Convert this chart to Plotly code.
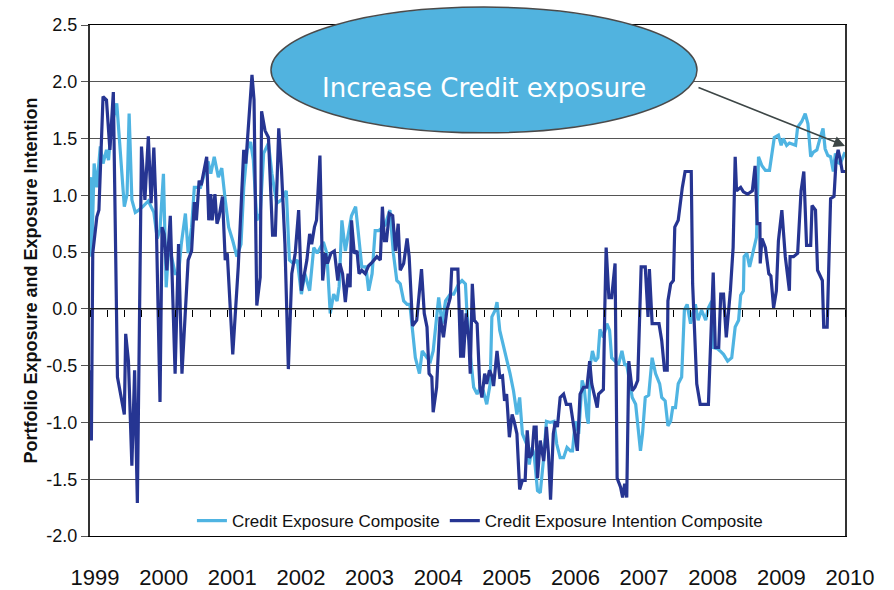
import plotly.graph_objects as go

# Credit Exposure Composite (decimal year, composite score)
exposure_years = [
    1999.00, 1999.01, 1999.025, 1999.06, 1999.10, 1999.15, 1999.19, 1999.24, 1999.27, 1999.31,
    1999.39, 1999.44, 1999.46, 1999.50, 1999.54, 1999.57, 1999.61, 1999.66, 1999.71, 1999.77,
    1999.85, 1999.93, 1999.98, 2000.02, 2000.07, 2000.11, 2000.15, 2000.20, 2000.24, 2000.29,
    2000.33, 2000.39, 2000.43, 2000.48, 2000.52, 2000.61, 2000.67, 2000.72, 2000.76, 2000.81,
    2000.87, 2000.92, 2000.97, 2001.02, 2001.08, 2001.14, 2001.20, 2001.24, 2001.29, 2001.34,
    2001.38, 2001.43, 2001.48, 2001.53, 2001.60, 2001.65, 2001.72, 2001.79, 2001.86, 2001.905,
    2001.96, 2002.02, 2002.08, 2002.13, 2002.20, 2002.26, 2002.31, 2002.40, 2002.45, 2002.50,
    2002.55, 2002.60, 2002.63, 2002.67, 2002.72, 2002.76, 2002.81, 2002.87, 2002.91, 2002.96,
    2003.02, 2003.06, 2003.11, 2003.155, 2003.21, 2003.30, 2003.37, 2003.42, 2003.47, 2003.52,
    2003.57, 2003.62, 2003.66, 2003.74, 2003.80, 2003.84, 2003.91, 2003.96, 2004.00, 2004.08,
    2004.13, 2004.18, 2004.25, 2004.30, 2004.37, 2004.42, 2004.47, 2004.49, 2004.54, 2004.59,
    2004.64, 2004.69, 2004.73, 2004.78, 2004.83, 2004.855, 2004.905, 2004.93, 2004.97, 2005.03,
    2005.07, 2005.12, 2005.17, 2005.22, 2005.26, 2005.30, 2005.36, 2005.40, 2005.44, 2005.47,
    2005.52, 2005.56, 2005.61, 2005.65, 2005.705, 2005.76, 2005.80, 2005.85, 2005.90, 2005.95,
    2006.00, 2006.03, 2006.07, 2006.12, 2006.17, 2006.20, 2006.24, 2006.26, 2006.29, 2006.32,
    2006.36, 2006.40, 2006.43, 2006.48, 2006.53, 2006.57, 2006.60, 2006.65, 2006.70, 2006.75,
    2006.79, 2006.82, 2006.87, 2006.90, 2006.95, 2007.02, 2007.05, 2007.09, 2007.14, 2007.19,
    2007.24, 2007.30, 2007.33, 2007.38, 2007.42, 2007.46, 2007.49, 2007.53, 2007.57, 2007.62,
    2007.66, 2007.70, 2007.75, 2007.78, 2007.82, 2007.86, 2007.91, 2007.97, 2008.01, 2008.06,
    2008.08, 2008.14, 2008.18, 2008.23, 2008.29, 2008.35, 2008.40, 2008.45, 2008.48, 2008.52,
    2008.53, 2008.57, 2008.61, 2008.68, 2008.71, 2008.74, 2008.79, 2008.84, 2008.90, 2008.97,
    2009.03, 2009.07, 2009.10, 2009.15, 2009.19, 2009.28, 2009.31, 2009.37, 2009.42, 2009.46,
    2009.50, 2009.54, 2009.59, 2009.64, 2009.68, 2009.71, 2009.75, 2009.79, 2009.83, 2009.86,
    2009.89, 2009.93, 2009.97, 2010.00,
]
exposure_values = [
    1.01, 1.16, 0.46, 1.28, 1.07, 1.43, 1.28, 1.40, 1.31, 1.60,
    1.81, 1.40, 1.31, 0.90, 1.01, 1.72, 0.96, 0.85, 0.87, 0.90,
    0.95, 0.85, 0.62, 0.70, 1.19, 0.19, 0.57, 0.43, 0.31, 0.31,
    0.57, 0.84, 0.49, 0.72, 1.07, 1.07, 1.19, 1.30, 1.19, 1.34,
    1.16, 1.24, 0.96, 0.72, 0.60, 0.46, 0.57, 1.07, 1.40, 1.47,
    1.31, 0.78, 0.84, 1.37, 1.46, 1.19, 0.93, 0.96, 1.04, 0.43,
    0.40, 0.43, 0.13, 0.31, 0.16, 0.54, 0.49, 0.59, 0.49, -0.04,
    0.13, 0.07, 0.20, 0.78, 0.51, 0.66, 0.82, 0.90, 0.66, 0.37,
    0.37, 0.16, 0.31, 0.69, 0.69, 0.74, 0.87, 0.49, 0.25, 0.22,
    0.07, 0.04, 0.04, -0.43, -0.57, -0.37, -0.43, -0.46, -0.37, 0.10,
    -0.13, 0.07, 0.13, 0.13, 0.22, 0.25, 0.22, -0.01, -0.40, -0.69,
    -0.75, -0.69, -0.72, -0.84, -0.66, -0.07, -0.01, 0.06, -0.19, -0.34,
    -0.43, -0.57, -0.72, -0.93, -0.78, -1.10, -1.19, -1.37, -1.22, -1.28,
    -1.60, -1.62, -1.31, -0.99, -1.00, -0.99, -1.19, -1.31, -1.31, -1.22,
    -1.25, -1.25, -0.99, -1.10, -0.63, -0.69, -0.95, -1.01, -0.49, -0.37,
    -0.46, -0.43, -0.18, -0.25, -0.13, -0.19, -0.43, -0.46, -0.49, -0.37,
    -0.49, -0.49, -0.66, -0.78, -0.84, -1.25, -1.10, -0.78, -0.76, -0.43,
    -0.57, -0.66, -0.78, -0.81, -1.03, -0.99, -0.87, -0.87, -0.66, -0.60,
    -0.01, 0.04, -0.13, -0.04, 0.04, -0.10, -0.01, -0.10, 0.01, 0.07,
    -0.34, -0.35, -0.37, -0.40, -0.46, -0.43, -0.16, -0.10, 0.12, 0.16,
    0.46, 0.49, 0.37, 0.54, 0.63, 1.34, 1.26, 1.22, 1.22, 1.51,
    1.53, 1.44, 1.50, 1.44, 1.46, 1.44, 1.60, 1.65, 1.72, 1.63,
    1.34, 1.38, 1.40, 1.51, 1.59, 1.41, 1.35, 1.34, 1.21, 1.37,
    1.29, 1.28, 1.34, 1.38,
]

# Credit Exposure Intention Composite (decimal year, composite score)
intention_years = [
    1999.00, 1999.01, 1999.02, 1999.04, 1999.10, 1999.13, 1999.19, 1999.24, 1999.29, 1999.34,
    1999.40, 1999.46, 1999.50, 1999.52, 1999.56, 1999.61, 1999.65, 1999.69, 1999.75, 1999.80,
    1999.85, 1999.89, 1999.93, 1999.96, 2000.02, 2000.05, 2000.08, 2000.12, 2000.17, 2000.24,
    2000.29, 2000.34, 2000.43, 2000.48, 2000.52, 2000.55, 2000.59, 2000.62, 2000.70, 2000.73,
    2000.76, 2000.78, 2000.82, 2000.85, 2000.88, 2000.93, 2000.97, 2001.00, 2001.08, 2001.16,
    2001.24, 2001.27, 2001.36, 2001.39, 2001.43, 2001.48, 2001.50, 2001.55, 2001.60, 2001.66,
    2001.70, 2001.75, 2001.79, 2001.84, 2001.89, 2001.94, 2001.99, 2002.04, 2002.08, 2002.16,
    2002.20, 2002.23, 2002.27, 2002.30, 2002.35, 2002.39, 2002.43, 2002.46, 2002.51, 2002.56,
    2002.61, 2002.64, 2002.68, 2002.72, 2002.76, 2002.79, 2002.81, 2002.85, 2002.89, 2002.92,
    2002.96, 2003.01, 2003.06, 2003.11, 2003.14, 2003.18, 2003.23, 2003.26, 2003.29, 2003.32,
    2003.36, 2003.41, 2003.45, 2003.49, 2003.52, 2003.57, 2003.62, 2003.65, 2003.70, 2003.76,
    2003.83, 2003.87, 2003.91, 2003.94, 2003.98, 2004.00, 2004.05, 2004.10, 2004.15, 2004.20,
    2004.25, 2004.27, 2004.36, 2004.40, 2004.42, 2004.44, 2004.48, 2004.52, 2004.54, 2004.57,
    2004.60, 2004.64, 2004.68, 2004.71, 2004.75, 2004.78, 2004.82, 2004.86, 2004.88, 2004.93,
    2004.97, 2005.01, 2005.04, 2005.07, 2005.11, 2005.15, 2005.18, 2005.22, 2005.26, 2005.30,
    2005.34, 2005.37, 2005.40, 2005.44, 2005.47, 2005.50, 2005.52, 2005.56, 2005.61, 2005.65,
    2005.68, 2005.71, 2005.75, 2005.78, 2005.81, 2005.85, 2005.90, 2005.94, 2006.00, 2006.05,
    2006.10, 2006.14, 2006.19, 2006.24, 2006.28, 2006.31, 2006.35, 2006.39, 2006.41, 2006.48,
    2006.50, 2006.52, 2006.56, 2006.60, 2006.65, 2006.68, 2006.73, 2006.76, 2006.79, 2006.82,
    2006.85, 2006.90, 2006.94, 2006.98, 2007.03, 2007.09, 2007.13, 2007.15, 2007.19, 2007.29,
    2007.33, 2007.37, 2007.41, 2007.42, 2007.46, 2007.50, 2007.52, 2007.57, 2007.63, 2007.67,
    2007.76, 2007.78, 2007.84, 2007.89, 2008.01, 2008.04, 2008.08, 2008.11, 2008.16, 2008.19,
    2008.23, 2008.27, 2008.33, 2008.37, 2008.40, 2008.42, 2008.48, 2008.52, 2008.58, 2008.65,
    2008.69, 2008.72, 2008.76, 2008.765, 2008.79, 2008.84, 2008.89, 2008.92, 2008.96, 2009.00,
    2009.03, 2009.08, 2009.13, 2009.19, 2009.20, 2009.25, 2009.31, 2009.36, 2009.40, 2009.44,
    2009.50, 2009.52, 2009.57, 2009.60, 2009.67, 2009.69, 2009.74, 2009.79, 2009.84, 2009.87,
    2009.90, 2009.935, 2009.96, 2010.00,
]
intention_values = [
    -0.84, -0.54, -1.16, 0.49, 0.81, 0.87, 1.87, 1.84, 1.40, 1.91,
    -0.60, -0.78, -0.93, -0.22, -0.46, -1.38, -0.54, -1.71, 1.43, 0.96,
    1.52, 0.93, 1.42, 0.93, -0.82, 0.72, 0.66, 0.34, 0.82, -0.57,
    0.57, -0.57, 0.43, 0.51, 0.94, 0.78, 1.13, 1.09, 1.34, 0.78,
    1.01, 0.78, 1.01, 0.75, 0.81, 0.99, 0.43, 0.49, -0.40, 0.37,
    1.40, 1.28, 2.06, 1.84, 0.03, 0.28, 1.74, 1.57, 1.51, 0.65,
    0.65, 1.59, 1.22, 0.57, -0.53, 0.31, 0.49, 0.87, 0.16, 0.43,
    0.66, 0.57, 0.72, 0.78, 1.35, 0.25, 0.49, 0.40, 0.49, 0.51,
    0.25, 0.40, 0.31, 0.06, 0.31, 0.19, 0.78, 0.49, 0.51, 0.31,
    0.34, 0.31, 0.38, 0.41, 0.43, 0.46, 0.43, 0.90, 0.60, 0.60,
    0.84, 0.82, 0.51, 0.75, 0.34, 0.40, 0.62, 0.46, -0.15, -0.10,
    0.35, -0.04, -0.16, -0.57, -0.60, -0.91, -0.69, -0.07, -0.25, -0.01,
    0.10, 0.35, 0.35, -0.43, -0.01, -0.43, -0.04, -0.28, -0.57, 0.22,
    -0.10, -0.13, -0.69, -0.78, -0.57, -0.66, -0.54, -0.60, -0.68, -0.37,
    -0.60, -0.59, -0.81, -0.75, -1.13, -0.93, -0.99, -1.10, -1.59, -1.51,
    -1.51, -1.07, -1.31, -1.28, -1.04, -1.04, -1.49, -1.16, -1.34, -1.04,
    -1.28, -1.68, -1.10, -0.99, -1.04, -0.78, -0.75, -0.84, -0.84, -1.07,
    -1.25, -0.75, -0.69, -0.69, -0.46, -0.66, -0.78, -0.87, -0.75, -0.71,
    -0.01, 0.54, 0.10, 0.10, 0.40, -1.49, -1.57, -1.66, -1.54, -1.66,
    -0.46, -0.72, -0.69, -0.63, 0.37, 0.37, -0.07, 0.35, -0.13, -0.13,
    -0.28, -0.54, -0.54, 0.07, 0.22, 0.25, 0.72, 0.78, 1.07, 1.21,
    1.21, 0.22, -0.66, -0.84, -0.84, -0.25, 0.32, -0.34, -0.34, 0.13,
    0.13, -0.25, 0.16, 0.54, 1.34, 1.04, 1.07, 1.03, 1.01, 1.04,
    1.26, 0.75, 0.75, 0.40, 0.62, 0.54, 0.31, 0.29, 0.01, 0.16,
    0.60, 0.87, 0.46, 0.16, 0.46, 0.46, 0.49, 1.04, 1.21, 0.56,
    0.56, 0.91, 0.87, 0.34, 0.25, -0.16, -0.16, 0.97, 0.99, 1.31,
    1.40, 1.30, 1.21, 1.21,
]

year_ticks = list(range(1999, 2011))
year_labels = [str(y) for y in year_ticks]

score_ticks = [-2.0, -1.5, -1.0, -0.5, 0.0, 0.5, 1.0, 1.5, 2.0, 2.5]
score_labels = [f"{v:.1f}" for v in score_ticks]  # plain hyphen minus

FONT = "Liberation Sans, Arial, sans-serif"
LIGHT = "#4FB4E2"
NAVY = "#263592"

fig = go.Figure()

fig.add_trace(go.Scatter(
    x=exposure_years, y=exposure_values, mode="lines",
    name="Credit Exposure Composite",
    line=dict(color=LIGHT, width=3.2),
    hoverinfo="skip",
))
fig.add_trace(go.Scatter(
    x=intention_years, y=intention_values, mode="lines",
    name="Credit Exposure Intention Composite",
    line=dict(color=NAVY, width=3.2),
    hoverinfo="skip",
))
# zero line carrying the quarterly tick marks
fig.add_trace(go.Scatter(
    x=[year_ticks[0], year_ticks[-1]], y=[0, 0], mode="lines",
    xaxis="x2", yaxis="y",
    line=dict(color="black", width=1),
    showlegend=False, hoverinfo="skip",
))

y_min, y_max = score_ticks[0], score_ticks[-1]

fig.update_layout(
    width=894, height=590,
    margin=dict(l=90, r=49, t=25, b=54),
    paper_bgcolor="white", plot_bgcolor="white",
    font=dict(family=FONT, color="#111111"),
    showlegend=True,
    legend=dict(
        orientation="h", x=0.135, y=-0.006, xanchor="left", yanchor="bottom",
        font=dict(size=17, family=FONT, color="#111111"),
        bgcolor="rgba(255,255,255,0)", traceorder="normal",
    ),
    xaxis=dict(
        range=[year_ticks[0], year_ticks[-1]],
        tickmode="array", tickvals=year_ticks, ticktext=year_labels,
        tickfont=dict(size=22, family=FONT, color="#111111"),
        ticks="", ticklabelstandoff=22, ticklabelshift=5, automargin=False,
        showgrid=False, zeroline=False,
        showline=True, linecolor="black", linewidth=1, mirror=True,
    ),
    xaxis2=dict(
        overlaying="x", anchor="free",
        position=(0 - y_min) / (y_max - y_min),
        range=[year_ticks[0], year_ticks[-1]],
        tick0=year_ticks[0], dtick=0.25,
        ticks="outside", ticklen=7, tickwidth=1, tickcolor="black",
        showticklabels=False, showgrid=False, zeroline=False,
        showline=False, automargin=False,
    ),
    yaxis=dict(
        range=[y_min, y_max],
        tickmode="array", tickvals=score_ticks, ticktext=score_labels,
        tickfont=dict(size=18, family=FONT, color="#111111"),
        ticks="outside", ticklen=7, tickcolor="#555555",
        showgrid=True, gridcolor="#555555", gridwidth=1,
        zeroline=False, automargin=False,
        showline=True, linecolor="#333333", linewidth=2, mirror=True,
        title=dict(
            text="<b>Portfolio Exposure and Exposure Intention</b>",
            font=dict(size=18, family=FONT, color="#111111"),
            standoff=4,
        ),
    ),
)

# callout bubble with arrow towards the latest readings
fig.add_shape(
    type="circle", xref="paper", yref="paper",
    x0=0.2397, x1=0.804, y0=0.789, y1=1.035,
    fillcolor="#51B3DF", line=dict(color="#4A4A4A", width=1.5),
    layer="above",
)
fig.add_annotation(
    xref="paper", yref="paper", x=0.522, y=0.91,
    text="Increase Credit exposure", showarrow=False,
    font=dict(size=26, family="DejaVu Sans, Verdana, sans-serif", color="white"),
)
fig.add_annotation(
    x=year_ticks[-1], y=1.435, xref="x", yref="y",
    ax=-148, ay=-59, text="", showarrow=True,
    arrowhead=2, arrowsize=1.4, arrowwidth=1.6, arrowcolor="#3D4646",
)

fig.write_html("out.html")
